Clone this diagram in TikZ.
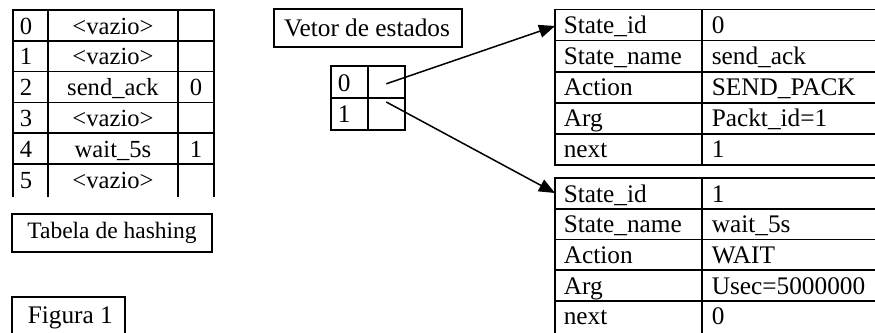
\documentclass[tikz,border=0pt]{standalone}
\usepackage{fontspec}
\setmainfont{Liberation Serif}
\usetikzlibrary{arrows.meta}
\begin{document}
\begin{tikzpicture}[x=1pt,y=-1pt, line width=1.6pt,
  txt/.style={inner sep=0pt, anchor=base west, font=\fontsize{25.3}{30}\selectfont},
  htxt/.style={inner sep=0pt, anchor=base, font=\fontsize{24.6}{30}\selectfont},
  hnum/.style={inner sep=0pt, anchor=base west, font=\fontsize{24.6}{30}\selectfont},
  ctxt/.style={inner sep=0pt, anchor=base, font=\fontsize{25.3}{30}\selectfont},
  cell/.style={draw, inner sep=0pt, anchor=north west},
  arr/.style={-{Triangle[length=16pt,width=13pt]}, line width=1.5pt}]
\useasboundingbox (0,0) rectangle (875,332);

% ---------- hash table ----------
\draw (13,197) -- (13,10) -- (214,10) -- (214,197);
\draw (48,10) -- (48,197);
\draw (178,10) -- (178,197);
\foreach \y in {40.8,71.6,102.4,133.2,164} \draw (13,\y) -- (214,\y);
\foreach \i/\t/\v/\b in {0/{<vazio>}//34, 1/{<vazio>}//64.8, 2/{send\_ack}/0/95.6,
                         3/{<vazio>}//126.4, 4/{wait\_5s}/1/157.2, 5/{<vazio>}//188}{
  \node[hnum] (hi\i) at (19,\b) {\i};
  \node[htxt] (hn\i) at (113,\b) {\t};
  \node[htxt] (hv\i) at (196,\b) {\v};
}
\node[draw, inner sep=0pt, minimum width=200pt, minimum height=38pt,
      font=\fontsize{23.5}{28}\selectfont] (tabela) at (112,233) {Tabela de hashing};

% ---------- Figura 1 ----------
\draw (12,336) -- (12,297) -- (125,297) -- (125,336);
\node[txt] (figura) at (27,323) {Figura 1};

% ---------- vetor de estados ----------
\node[cell, minimum width=188pt, minimum height=38pt] (vetor) at (273,8) {};
\node[ctxt] (vetortxt) at (367,36) {Vetor de estados};
\node[cell, minimum width=37pt, minimum height=32pt] (v0l) at (330,65) {};
\node[cell, minimum width=37pt, minimum height=32pt] (v0r) at (367,65) {};
\node[cell, minimum width=37pt, minimum height=32pt] (v1l) at (330,97) {};
\node[cell, minimum width=37pt, minimum height=32pt] (v1r) at (367,97) {};
\node[txt] (v0t) at (337,91) {0};
\node[txt] (v1t) at (337,122) {1};

% ---------- state 0 ----------
\draw (877,9.5) -- (555,9.5) -- (555,165) -- (877,165);
\draw (702,9.5) -- (702,165);
\foreach \y in {40.6,71.7,102.8,133.9} \draw (555,\y) -- (877,\y);
\foreach \k/\a/\v/\b in {a/{State\_id}/0/33.5, b/{State\_name}/{send\_ack}/64.6,
                         c/Action/{SEND\_PACK}/95.7, d/Arg/{Packt\_id=1}/126.8, e/next/1/157.9}{
  \node[txt] (sa\k) at (563,\b) {\a};
  \node[txt] (sv\k) at (711,\b) {\v};
}

% ---------- state 1 ----------
\draw (877,178) -- (555,178) -- (555,336);
\draw (702,178) -- (702,336);
\foreach \y in {208.7,239.4,270.1,300.8} \draw (555,\y) -- (877,\y);
\foreach \k/\a/\v/\b in {a/{State\_id}/1/202, b/{State\_name}/{wait\_5s}/232.7,
                         c/Action/WAIT/263.4, d/Arg/{Usec=5000000}/294.1, e/next/0/324.8}{
  \node[txt] (ta\k) at (563,\b) {\a};
  \node[txt] (tv\k) at (711,\b) {\v};
}

% ---------- arrows ----------
\coordinate (s0in) at (555,26);
\coordinate (s1in) at (555,193);
\draw[arr] ([yshift=-2pt]v0r.center) -- (s0in);
\draw[arr] ([yshift=-5pt]v1r.north) -- (s1in);
\end{tikzpicture}
\end{document}
